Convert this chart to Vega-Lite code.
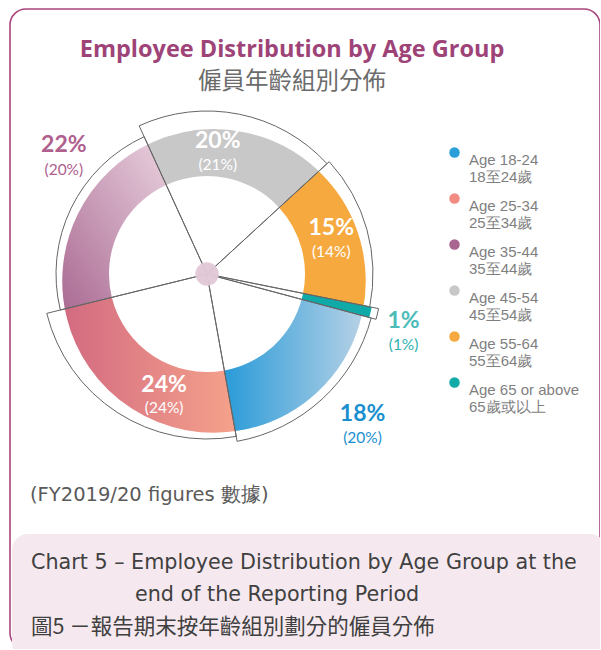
{
  "$schema": "https://vega.github.io/schema/vega-lite/v6.json",
  "width": 590,
  "height": 640,
  "autosize": "none",
  "padding": {"left": 10, "top": 9, "right": 0, "bottom": 0},
  "background": "white",
  "view": {"stroke": "#a9457e", "strokeWidth": 1.6, "cornerRadius": 16, "fill": "white"},
  "title": {
    "text": "Employee Distribution by Age Group",
    "subtitle": "僱員年齡組別分佈",
    "anchor": "middle",
    "frame": "group",
    "offset": -84,
    "dx": -13,
    "font": "Open Sans",
    "fontSize": 23.5,
    "fontWeight": "bold",
    "color": "#9e4378",
    "subtitleFont": "Noto Sans CJK TC",
    "subtitleFontSize": 23.5,
    "subtitleColor": "#6b6b6b",
    "subtitlePadding": 8
  },
  "data": {
    "values": [
      {"group": "Age 18-24", "zh": "18至24歲", "value": 18, "prev": 20, "order": 1},
      {"group": "Age 25-34", "zh": "25至34歲", "value": 24, "prev": 24, "order": 2},
      {"group": "Age 35-44", "zh": "35至44歲", "value": 22, "prev": 20, "order": 3},
      {"group": "Age 45-54", "zh": "45至54歲", "value": 20, "prev": 21, "order": 4},
      {"group": "Age 55-64", "zh": "55至64歲", "value": 15, "prev": 14, "order": 5},
      {"group": "Age 65 or above", "zh": "65歲或以上", "value": 1, "prev": 1, "order": 6}
    ]
  },
  "transform": [
    {"stack": "value", "groupby": [], "sort": [{"field": "order", "order": "ascending"}], "as": ["v0", "v1"]},
    {"calculate": "(datum.v0 + datum.v1) / 2", "as": "vm"},
    {"calculate": "datum.group + '|' + datum.zh", "as": "legendLabel"},
    {"calculate": "datum.value + '%'", "as": "lbl"},
    {"calculate": "'(' + datum.prev + '%)'", "as": "plbl"}
  ],
  "layer": [
    {
      "mark": {"type": "arc", "x": 197, "y": 265, "innerRadius": 99, "outerRadius": 140},
      "encoding": {
        "theta": {"field": "v0", "type": "quantitative", "scale": {"domain": [0, 100], "range": [1.8326, 8.1158]}},
        "theta2": {"field": "v1"},
        "color": {
          "field": "legendLabel",
          "type": "nominal",
          "sort": {"field": "order"},
          "scale": {"range": ["#2a9fd8", "#f28b82", "#a8658f", "#c8c8c8", "#f6a93f", "#10aaa8"]},
          "legend": {
            "orient": "none",
            "legendX": 437,
            "legendY": 136,
            "title": null,
            "symbolType": "circle",
            "symbolSize": 110,
            "symbolStrokeWidth": 0,
            "labelFont": "Liberation Sans",
            "labelFontSize": 15,
            "labelColor": "#7f7f7f",
            "labelExpr": "split(datum.label, '|')",
            "labelBaseline": "top",
            "labelOffset": 7,
            "labelLimit": 200,
            "rowPadding": 6,
            "padding": 0
          }
        }
      }
    },
    {
      "transform": [{"filter": "datum.order == 1"}],
      "mark": {"type": "arc", "x": 197, "y": 265, "innerRadius": 98, "outerRadius": 166,
        "color": {"gradient": "linear", "x1": 0, "y1": 0.5, "x2": 1, "y2": 0.5, "stops": [{"offset": 0, "color": "#2a9bd8"}, {"offset": 1, "color": "#bad3e6"}]}},
      "encoding": {"theta": {"field": "v0", "type": "quantitative", "scale": {"domain": [0, 100], "range": [1.8326, 8.1158]}}, "theta2": {"field": "v1"}}
    },
    {
      "transform": [{"filter": "datum.order == 2"}],
      "mark": {"type": "arc", "x": 197, "y": 265, "innerRadius": 98, "outerRadius": 166,
        "color": {"gradient": "linear", "x1": 0, "y1": 0.5, "x2": 1, "y2": 0.5, "stops": [{"offset": 0, "color": "#cf6580"}, {"offset": 1, "color": "#f5a28b"}]}},
      "encoding": {"theta": {"field": "v0", "type": "quantitative", "scale": {"domain": [0, 100], "range": [1.8326, 8.1158]}}, "theta2": {"field": "v1"}}
    },
    {
      "transform": [{"filter": "datum.order == 3"}],
      "mark": {"type": "arc", "x": 197, "y": 265, "innerRadius": 98, "outerRadius": 166,
        "color": {"gradient": "linear", "x1": 0, "y1": 1, "x2": 1, "y2": 0, "stops": [{"offset": 0, "color": "#a4608b"}, {"offset": 1, "color": "#ecd6e2"}]}},
      "encoding": {"theta": {"field": "v0", "type": "quantitative", "scale": {"domain": [0, 100], "range": [1.8326, 8.1158]}}, "theta2": {"field": "v1"}}
    },
    {
      "transform": [{"filter": "datum.order == 4"}],
      "mark": {"type": "arc", "x": 197, "y": 265, "innerRadius": 98, "outerRadius": 166, "color": "#c8c8c8"},
      "encoding": {"theta": {"field": "v0", "type": "quantitative", "scale": {"domain": [0, 100], "range": [1.8326, 8.1158]}}, "theta2": {"field": "v1"}}
    },
    {
      "transform": [{"filter": "datum.order == 5"}],
      "mark": {"type": "arc", "x": 197, "y": 265, "innerRadius": 98, "outerRadius": 166, "color": "#f6a93f"},
      "encoding": {"theta": {"field": "v0", "type": "quantitative", "scale": {"domain": [0, 100], "range": [1.8326, 8.1158]}}, "theta2": {"field": "v1"}}
    },
    {
      "mark": {"type": "arc", "x": 204, "y": 272, "innerRadius": 152.5, "outerRadius": 186, "color": "white", "stroke": "white", "strokeWidth": 1.5},
      "encoding": {"theta": {"field": "v0", "type": "quantitative", "scale": {"domain": [0, 100], "range": [1.8326, 8.1158]}}, "theta2": {"field": "v1"}}
    },
    {
      "transform": [{"filter": "datum.order == 6"}],
      "mark": {"type": "arc", "x": 197, "y": 265, "innerRadius": 98, "outerRadius": 168, "color": "#0faaa8"},
      "encoding": {"theta": {"field": "v0", "type": "quantitative", "scale": {"domain": [0, 100], "range": [1.8326, 8.1158]}}, "theta2": {"field": "v1"}}
    },
    {
      "transform": [{"filter": "datum.order == 1"}],
      "mark": {"type": "arc", "x": 197, "y": 265, "innerRadius": 0, "outerRadius": 170, "filled": false, "stroke": "#666666", "strokeWidth": 1},
      "encoding": {"theta": {"field": "v0", "type": "quantitative", "scale": {"domain": [0, 100], "range": [1.8326, 8.1158]}}, "theta2": {"field": "v1"}}
    },
    {
      "transform": [{"filter": "datum.order == 2"}],
      "mark": {"type": "arc", "x": 197, "y": 265, "innerRadius": 0, "outerRadius": 165, "filled": false, "stroke": "#666666", "strokeWidth": 1},
      "encoding": {"theta": {"field": "v0", "type": "quantitative", "scale": {"domain": [0, 100], "range": [1.8326, 8.1158]}}, "theta2": {"field": "v1"}}
    },
    {
      "transform": [{"filter": "datum.order == 3"}],
      "mark": {"type": "arc", "x": 197, "y": 265, "innerRadius": 0, "outerRadius": 151, "filled": false, "stroke": "#666666", "strokeWidth": 1},
      "encoding": {"theta": {"field": "v0", "type": "quantitative", "scale": {"domain": [0, 100], "range": [1.8326, 8.1158]}}, "theta2": {"field": "v1"}}
    },
    {
      "transform": [{"filter": "datum.order == 4"}],
      "mark": {"type": "arc", "x": 197, "y": 265, "innerRadius": 0, "outerRadius": 163, "filled": false, "stroke": "#666666", "strokeWidth": 1},
      "encoding": {"theta": {"field": "v0", "type": "quantitative", "scale": {"domain": [0, 100], "range": [1.8326, 8.1158]}}, "theta2": {"field": "v1"}}
    },
    {
      "transform": [{"filter": "datum.order == 5"}],
      "mark": {"type": "arc", "x": 197, "y": 265, "innerRadius": 0, "outerRadius": 166, "filled": false, "stroke": "#666666", "strokeWidth": 1},
      "encoding": {"theta": {"field": "v0", "type": "quantitative", "scale": {"domain": [0, 100], "range": [1.8326, 8.1158]}}, "theta2": {"field": "v1"}}
    },
    {
      "transform": [{"filter": "datum.order == 6"}],
      "mark": {"type": "arc", "x": 197, "y": 265, "innerRadius": 0, "outerRadius": 175, "filled": false, "stroke": "#666666", "strokeWidth": 1},
      "encoding": {"theta": {"field": "v0", "type": "quantitative", "scale": {"domain": [0, 100], "range": [1.8326, 8.1158]}}, "theta2": {"field": "v1"}}
    },
    {
      "mark": {"type": "arc", "x": 197, "y": 265, "innerRadius": 0, "outerRadius": 11.5, "color": "#e2cad8", "stroke": "#e2cad8", "strokeWidth": 0.5},
      "encoding": {"theta": {"field": "v0", "type": "quantitative", "scale": {"domain": [0, 100], "range": [1.8326, 8.1158]}}, "theta2": {"field": "v1"}}
    },
    {
      "transform": [{"filter": "datum.order == 4"}],
      "mark": {"type": "text", "x": 197, "y": 265, "radius": 120, "dx": -13, "dy": -15, "font": "Lato", "fontWeight": "bold", "fontSize": 23, "color": "white", "align": "center", "baseline": "middle"},
      "encoding": {"theta": {"field": "vm", "type": "quantitative", "stack": null, "scale": {"domain": [0, 100], "range": [1.8326, 8.1158]}}, "text": {"field": "lbl"}}
    },
    {
      "transform": [{"filter": "datum.order == 4"}],
      "mark": {"type": "text", "x": 197, "y": 265, "radius": 120, "dx": -13, "dy": 9, "font": "Lato", "fontSize": 15.5, "color": "white", "align": "center", "baseline": "middle"},
      "encoding": {"theta": {"field": "vm", "type": "quantitative", "stack": null, "scale": {"domain": [0, 100], "range": [1.8326, 8.1158]}}, "text": {"field": "plbl"}}
    },
    {
      "transform": [{"filter": "datum.order == 5"}],
      "mark": {"type": "text", "x": 197, "y": 265, "radius": 129, "dx": 0, "dy": -11, "font": "Lato", "fontWeight": "bold", "fontSize": 23, "color": "white", "align": "center", "baseline": "middle"},
      "encoding": {"theta": {"field": "vm", "type": "quantitative", "stack": null, "scale": {"domain": [0, 100], "range": [1.8326, 8.1158]}}, "text": {"field": "lbl"}}
    },
    {
      "transform": [{"filter": "datum.order == 5"}],
      "mark": {"type": "text", "x": 197, "y": 265, "radius": 129, "dx": 0, "dy": 13, "font": "Lato", "fontSize": 15.5, "color": "white", "align": "center", "baseline": "middle"},
      "encoding": {"theta": {"field": "vm", "type": "quantitative", "stack": null, "scale": {"domain": [0, 100], "range": [1.8326, 8.1158]}}, "text": {"field": "plbl"}}
    },
    {
      "transform": [{"filter": "datum.order == 2"}],
      "mark": {"type": "text", "x": 197, "y": 265, "radius": 126.5, "dx": 26, "dy": 5, "font": "Lato", "fontWeight": "bold", "fontSize": 23, "color": "white", "align": "center", "baseline": "middle"},
      "encoding": {"theta": {"field": "vm", "type": "quantitative", "stack": null, "scale": {"domain": [0, 100], "range": [1.8326, 8.1158]}}, "text": {"field": "lbl"}}
    },
    {
      "transform": [{"filter": "datum.order == 2"}],
      "mark": {"type": "text", "x": 197, "y": 265, "radius": 126.5, "dx": 26, "dy": 28, "font": "Lato", "fontSize": 15.5, "color": "white", "align": "center", "baseline": "middle"},
      "encoding": {"theta": {"field": "vm", "type": "quantitative", "stack": null, "scale": {"domain": [0, 100], "range": [1.8326, 8.1158]}}, "text": {"field": "plbl"}}
    },
    {
      "transform": [{"filter": "datum.order == 3"}],
      "mark": {"type": "text", "x": 197, "y": 265, "radius": 179, "dx": 18, "dy": -51, "font": "Lato", "fontWeight": "bold", "fontSize": 23, "color": "#b0608e", "align": "center", "baseline": "middle"},
      "encoding": {"theta": {"field": "vm", "type": "quantitative", "stack": null, "scale": {"domain": [0, 100], "range": [1.8326, 8.1158]}}, "text": {"field": "lbl"}}
    },
    {
      "transform": [{"filter": "datum.order == 3"}],
      "mark": {"type": "text", "x": 197, "y": 265, "radius": 179, "dx": 18, "dy": -26, "font": "Lato", "fontSize": 15.5, "color": "#b0608e", "align": "center", "baseline": "middle"},
      "encoding": {"theta": {"field": "vm", "type": "quantitative", "stack": null, "scale": {"domain": [0, 100], "range": [1.8326, 8.1158]}}, "text": {"field": "plbl"}}
    },
    {
      "transform": [{"filter": "datum.order == 1"}],
      "mark": {"type": "text", "x": 197, "y": 265, "radius": 218, "dx": 8, "dy": -20, "font": "Lato", "fontWeight": "bold", "fontSize": 23, "color": "#1a8fcf", "align": "center", "baseline": "middle"},
      "encoding": {"theta": {"field": "vm", "type": "quantitative", "stack": null, "scale": {"domain": [0, 100], "range": [1.8326, 8.1158]}}, "text": {"field": "lbl"}}
    },
    {
      "transform": [{"filter": "datum.order == 1"}],
      "mark": {"type": "text", "x": 197, "y": 265, "radius": 218, "dx": 8, "dy": 4, "font": "Lato", "fontSize": 15.5, "color": "#1a8fcf", "align": "center", "baseline": "middle"},
      "encoding": {"theta": {"field": "vm", "type": "quantitative", "stack": null, "scale": {"domain": [0, 100], "range": [1.8326, 8.1158]}}, "text": {"field": "plbl"}}
    },
    {
      "transform": [{"filter": "datum.order == 6"}],
      "mark": {"type": "text", "x": 197, "y": 265, "radius": 205, "dx": -3, "dy": 0, "font": "Lato", "fontWeight": "bold", "fontSize": 23, "color": "#4cbcb9", "align": "center", "baseline": "middle"},
      "encoding": {"theta": {"field": "vm", "type": "quantitative", "stack": null, "scale": {"domain": [0, 100], "range": [1.8326, 8.1158]}}, "text": {"field": "lbl"}}
    },
    {
      "transform": [{"filter": "datum.order == 6"}],
      "mark": {"type": "text", "x": 197, "y": 265, "radius": 205, "dx": -3, "dy": 24, "font": "Lato", "fontSize": 15.5, "color": "#2cb3b0", "align": "center", "baseline": "middle"},
      "encoding": {"theta": {"field": "vm", "type": "quantitative", "stack": null, "scale": {"domain": [0, 100], "range": [1.8326, 8.1158]}}, "text": {"field": "plbl"}}
    },
    {
      "data": {"values": [{"t": "(FY2019/20 figures 數據)"}]},
      "mark": {"type": "text", "x": 20, "y": 486, "align": "left", "baseline": "middle", "font": "DejaVu Sans", "fontSize": 19.5, "color": "#5a5a5a"},
      "encoding": {"text": {"field": "t"}}
    },
    {
      "data": {"values": [{"t": "box"}]},
      "mark": {"type": "rect", "x": 2, "x2": 596, "y": 525, "y2": 650, "cornerRadius": 16, "color": "#f5e9ef"},
      "encoding": {}
    },
    {
      "data": {"values": [{"t": "Chart 5 – Employee Distribution by Age Group at the"}]},
      "mark": {"type": "text", "x": 21, "y": 554, "align": "left", "baseline": "middle", "font": "DejaVu Sans", "fontSize": 20.7, "color": "#404040"},
      "encoding": {"text": {"field": "t"}}
    },
    {
      "data": {"values": [{"t": "end of the Reporting Period"}]},
      "mark": {"type": "text", "x": 125, "y": 586, "align": "left", "baseline": "middle", "font": "DejaVu Sans", "fontSize": 20.7, "color": "#404040"},
      "encoding": {"text": {"field": "t"}}
    },
    {
      "data": {"values": [{"t": "圖5 －報告期末按年齡組別劃分的僱員分佈"}]},
      "mark": {"type": "text", "x": 21, "y": 619, "align": "left", "baseline": "middle", "font": "Noto Sans CJK TC", "fontSize": 21.5, "color": "#404040"},
      "encoding": {"text": {"field": "t"}}
    }
  ]
}
